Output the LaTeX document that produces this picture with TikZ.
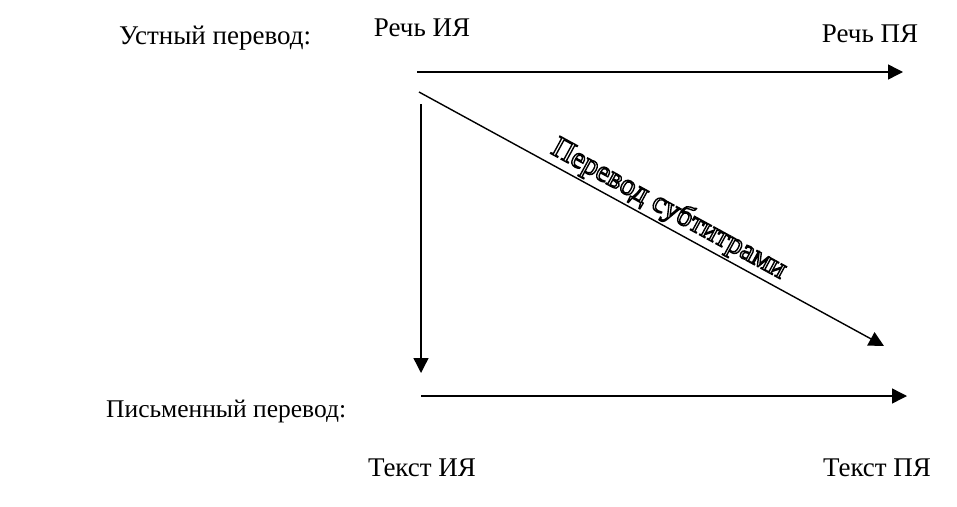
\documentclass[tikz,border=0pt]{standalone}
\usepackage{fontspec}
\setmainfont{Liberation Serif}
\usetikzlibrary{arrows.meta}
\tikzset{
    lbl/.style={inner sep=0pt, font=\fontsize{27}{30}\selectfont},
    arr/.style={line width=1.4pt, -{Triangle[length=15pt,width=15pt]}},
    hollow/.style={font=\fontsize{30}{34}\selectfont}
}
\newcommand{\outlined}[1]{\special{pdf:code q 1 Tr 1.4 w}#1\special{pdf:code Q}}

\begin{document}
\begin{tikzpicture}[x=1pt,y=-1pt]
    \useasboundingbox (0,0) rectangle (957,506);

    % Labels
    \node[lbl] (srcspeech) at (422,28) {Речь ИЯ};
    \node[lbl] (tgtspeech) at (870,34) {Речь ПЯ};
    \node[lbl,anchor=west] (oral) at (119,38) {Устный перевод:};
    \node[lbl,anchor=west,font=\fontsize{25.5}{28}\selectfont] (written) at (106,411) {Письменный перевод:};
    \node[lbl] (srctext) at (422,468) {Текст ИЯ};
    \node[lbl] (tgttext) at (877,468) {Текст ПЯ};

    % Arrow ends
    \coordinate (topL) at (417,72);
    \coordinate (topR) at (903,72);
    \coordinate (diagL) at (419,92);
    \coordinate (diagR) at (884,346);
    \coordinate (vertT) at (421,104);
    \coordinate (vertB) at (421,373);
    \coordinate (botL) at (421,396);
    \coordinate (botR) at (907,396);

    % Arrows
    \draw[arr] (topL) -- (topR);
    \draw[arr] (vertT) -- (vertB);
    \draw[arr] (botL) -- (botR);
    \draw[arr] (diagL) -- (diagR)
        node[hollow,sloped,above,pos=0.52,inner sep=2pt] (subtitles) {\outlined{Перевод субтитрами}};
\end{tikzpicture}
\end{document}
